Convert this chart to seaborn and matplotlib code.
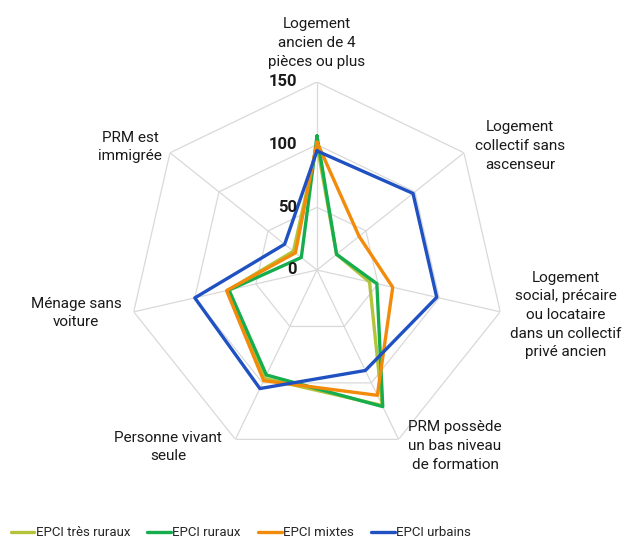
#Import Libraries
import numpy as np
import pandas as pd
import matplotlib.pyplot as plt
import seaborn as sns
from matplotlib.transforms import offset_copy

#Adjustments
sns.set_style("white")
plt.rcParams['font.family'] = ['Roboto', 'DejaVu Sans']

#Data
axes_labels = [
    "Logement\nancien de 4\npièces ou plus",
    "Logement\ncollectif sans\nascenseur",
    "Logement\nsocial, précaire\nou locataire\ndans un collectif\nprivé ancien",
    "PRM possède\nun bas niveau\nde formation",
    "Personne vivant\nseule",
    "Ménage sans\nvoiture",
    "PRM est\nimmigrée",
]
series = ["EPCI très ruraux", "EPCI ruraux", "EPCI mixtes", "EPCI urbains"]
tres_ruraux = [100, 20, 43, 120, 96, 73, 24]
ruraux = [107, 20, 49, 121, 93, 72, 16]
mixtes = [102, 43, 62, 111, 98, 74, 22]
urbains = [95, 98, 98, 89, 105, 100, 33]
colors = ["#B4C33A", "#16AD4E", "#F28A0A", "#1F51C2"]
ticks = [0, 50, 100, 150]

#Long form table (polygon closed by repeating first point)
n = len(axes_labels)
theta = np.linspace(0, 2 * np.pi, n, endpoint=False)
theta_closed = np.append(theta, 2 * np.pi)
rows = []
for name, vals in zip(series, [tres_ruraux, ruraux, mixtes, urbains]):
    for t, v in zip(theta_closed, vals + vals[:1]):
        rows.append({"angle": t, "value": v, "serie": name})
df = pd.DataFrame(rows)

#Figure
fig = plt.figure(figsize=(6.32, 5.39), dpi=100)
ax = fig.add_axes([0.2041, 0.1503, 0.5949, 0.6976], projection="polar")
ax.set_theta_zero_location("N")
ax.set_theta_direction(-1)
ax.set_ylim(0, 150)
ax.grid(False)
ax.spines["polar"].set_visible(False)
ax.set_xticks([])
ax.set_yticks([])

#Heptagon grid
grid_col = "#d9d9d9"
for r in ticks[1:]:
    ax.plot(theta_closed, [r] * (n + 1), color=grid_col, lw=0.9, zorder=1)
for t in theta:
    ax.plot([t, t], [0, 150], color=grid_col, lw=0.9, zorder=1)

#Series
sns.lineplot(data=df, x="angle", y="value", hue="serie", hue_order=series,
             palette=colors, sort=False, estimator=None, lw=2.4, ax=ax, zorder=3)
ax.set_xlabel("")
ax.set_ylabel("")

#Radial tick labels
tick_tr = offset_copy(ax.transData, fig=fig, x=-20, y=0, units="dots")
for r in ticks:
    ax.text(0, r, str(r), transform=tick_tr, ha="right", va="center",
            fontsize=12, fontweight="bold", color="#1a1a1a")

#Category labels (pixel centres)
W, H = 632, 539
label_pos = [(317, 43), (520, 146), (566, 315), (455, 446),
             (168, 447), (76, 313), (130, 147)]
for lab, (px, py) in zip(axes_labels, label_pos):
    fig.text(px / W, 1 - py / H, lab, ha="center", va="center",
             fontsize=11, color="#1a1a1a", linespacing=1.42)

#Legend
handles, labels = ax.get_legend_handles_labels()
ax.get_legend().remove()
fig.legend(handles, labels, loc="center left", bbox_to_anchor=(0.0, 1 - 533 / H),
           ncol=4, frameon=False, fontsize=9.5, handlelength=1.8,
           handletextpad=0.1, columnspacing=1.3, borderaxespad=0.4)

plt.savefig("out.png", dpi=100)
